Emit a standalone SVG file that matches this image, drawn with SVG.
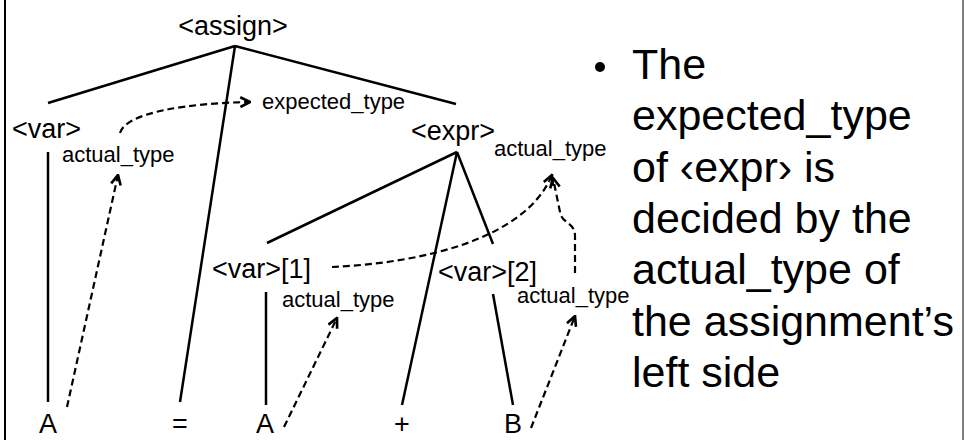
<svg xmlns="http://www.w3.org/2000/svg" width="964" height="440" viewBox="0 0 964 440">
<style>
.big{font-family:"Liberation Sans",Arial,sans-serif;font-size:27px;fill:#000}
.sm{font-family:"Liberation Sans",Arial,sans-serif;font-size:22px;fill:#000}
.txt{font-family:"Liberation Sans",Arial,sans-serif;font-size:43px;fill:#000}
.edge{stroke:#000;stroke-width:2.5;fill:none}
.dash{stroke:#000;stroke-width:2.2;fill:none;stroke-dasharray:7 4;marker-end:url(#arr)}
</style>
<defs>
<marker id="arr" viewBox="0 0 10 10" refX="9" refY="5" markerWidth="5.5" markerHeight="5.5" orient="auto" markerUnits="strokeWidth">
<path d="M1,1 L9,5 L1,9" fill="none" stroke="#000" stroke-width="2.2"/>
</marker>
</defs>
<rect width="964" height="440" fill="#fff"/>
<line x1="5" y1="0" x2="5" y2="440" stroke="#000" stroke-width="2"/>
<line x1="963" y1="0" x2="963" y2="440" stroke="#000" stroke-width="1"/>
<g id="connectors">
<line class="edge" x1="235" y1="46" x2="48" y2="103"/>
<line class="edge" x1="235" y1="46" x2="180" y2="402"/>
<line class="edge" x1="235" y1="46" x2="456" y2="104"/>
<line class="edge" x1="48" y1="152" x2="48" y2="402"/>
<line class="edge" x1="457" y1="152" x2="267" y2="243"/>
<line class="edge" x1="457" y1="152" x2="402" y2="405"/>
<line class="edge" x1="457" y1="152" x2="493" y2="244"/>
<line class="edge" x1="266" y1="292" x2="266" y2="405"/>
<line class="edge" x1="493" y1="294" x2="513" y2="405"/>
<path class="dash" d="M120,133 C126,112 190,103 250,102"/>
<path class="dash" d="M67,407 L118,175"/>
<path class="dash" d="M284,427 L337,318"/>
<path class="dash" d="M531,428 L575,316"/>
<path class="dash" d="M332,267 C420,263 525,240 552,175"/>
<path class="dash" d="M575,273 L575,236 C575,222 562,224 560,212 L553,178"/>
</g>
<g id="assign"><text class="big" x="233" y="35" text-anchor="middle">&lt;assign&gt;</text></g>
<g id="var"><text class="big" x="12" y="138">&lt;var&gt;</text><text class="sm" x="62" y="162">actual_type</text></g>
<g id="expected"><text class="sm" x="262" y="109">expected_type</text></g>
<g id="expr"><text class="big" x="411" y="140">&lt;expr&gt;</text><text class="sm" x="494" y="156">actual_type</text></g>
<g id="var1"><text class="big" x="212" y="278">&lt;var&gt;[1]</text><text class="sm" x="282" y="307">actual_type</text></g>
<g id="var2"><text class="big" x="438" y="281">&lt;var&gt;[2]</text><text class="sm" x="517" y="303">actual_type</text></g>
<g id="leafA1"><text class="big" x="48" y="433" text-anchor="middle">A</text></g>
<g id="leafEq"><text class="big" x="180" y="433" text-anchor="middle">=</text></g>
<g id="leafA2"><text class="big" x="265" y="433" text-anchor="middle">A</text></g>
<g id="leafPlus"><text class="big" x="402" y="433" text-anchor="middle">+</text></g>
<g id="leafB"><text class="big" x="513" y="433" text-anchor="middle">B</text></g>
<g id="note">
<circle cx="600" cy="67" r="5" fill="#000"/>
<text class="txt" x="632" y="79">The</text>
<text class="txt" x="632" y="130">expected_type</text>
<text class="txt" x="632" y="182">of ‹expr› is</text>
<text class="txt" x="632" y="233">decided by the</text>
<text class="txt" x="632" y="284">actual_type of</text>
<text class="txt" x="632" y="336">the assignment’s</text>
<text class="txt" x="632" y="387">left side</text>
</g>
</svg>
